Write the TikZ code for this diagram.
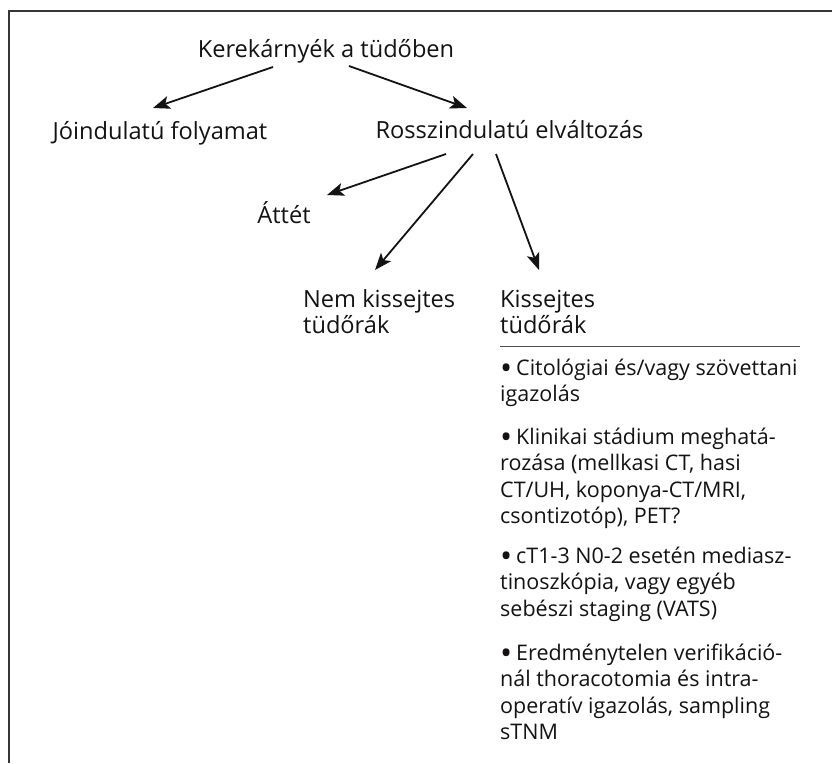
\documentclass[tikz,border=0pt]{standalone}
\usepackage{fontspec}
\setmainfont{Open Sans}
\usepackage{graphicx}
\usepackage{tikz}
\usetikzlibrary{arrows.meta}

\definecolor{szoveg}{rgb}{0.08,0.07,0.07}
\newcommand{\pontsor}[1]{\parbox[t]{320pt}{\raggedright\hangindent=16pt\hangafter=1\noindent\makebox[16pt][l]{\raisebox{-4.5pt}{\scalebox{1.5}{\textbullet}}}#1}}

\tikzset{
  cimke/.style={font=\fontsize{23.6}{26.5}\selectfont, text=szoveg, inner sep=0pt, anchor=base},
  fejlec/.style={cimke, anchor=base west},
  lista/.style={cimke, font=\fontsize{21.5}{26.5}\selectfont, anchor=base west},
  nyil/.style={draw=szoveg, line width=1.8pt, -{Stealth[length=17pt,width=13pt,inset=4pt]}},
  keret/.style={draw=szoveg!85, line width=1.3pt},
  vonal/.style={draw=szoveg!75, line width=1pt}
}

\begin{document}
\begin{tikzpicture}[x=1pt,y=-1pt]
  \useasboundingbox (0,0) rectangle (832,763);

  % Drawing frame
  \draw[keret] (832,11) -- (9,11) -- (9,763);

  % Marking labels
  \node[cimke] (kerek) at (326,57) {Kerekárnyék a tüdőben};
  \node[cimke] (joind) at (160,139) {Jóindulatú folyamat};
  \node[cimke] (rossz) at (509.5,138) {Rosszindulatú elváltozás};
  \node[cimke] (attet) at (284,223) {Áttét};
  \node[fejlec] (nemkis) at (303,307) {\parbox[t]{170pt}{Nem kissejtes\\tüdőrák}};
  \node[fejlec] (kis) at (500,307) {\parbox[t]{170pt}{Kissejtes\\tüdőrák}};

  % Drawing arrows
  \draw[nyil] ([shift={(-53,10)}]kerek.base) -- ([shift={(-7,-31)}]joind.base);
  \draw[nyil] ([shift={(23,9)}]kerek.base) -- ([shift={(-42.5,-30)}]rossz.base);
  \draw[nyil] ([shift={(-63.5,16)}]rossz.base) -- ([shift={(43,-28)}]attet.base);
  \draw[nyil] ([shift={(-36.5,16)}]rossz.base) -- ([shift={(72,-37)}]nemkis.base west);
  \draw[nyil] ([shift={(-13.5,16)}]rossz.base) -- ([shift={(39,-37)}]kis.base west);

  % Drawing line under Kissejtes
  \draw[vonal] ([shift={(0,39)}]kis.base west) -- ++(300,0);

  % Marking list items
  \node[lista] (tetel1) at (500,375) {\pontsor{Citológiai és/vagy szövettani\\igazolás}};
  \node[lista] (tetel2) at (500,444) {\pontsor{Klinikai stádium meghatá-\\rozása (mellkasi CT, hasi\\CT/UH, koponya-CT/MRI,\\csontizotóp), PET?}};
  \node[lista] (tetel3) at (500,563) {\pontsor{cT1-3 N0-2 esetén mediasz-\\tinoszkópia, vagy egyéb\\sebészi staging (VATS)}};
  \node[lista] (tetel4) at (500,660) {\pontsor{Eredménytelen verifikáció-\\nál thoracotomia és intra-\\operatív igazolás, sampling\\sTNM}};
\end{tikzpicture}
\end{document}
